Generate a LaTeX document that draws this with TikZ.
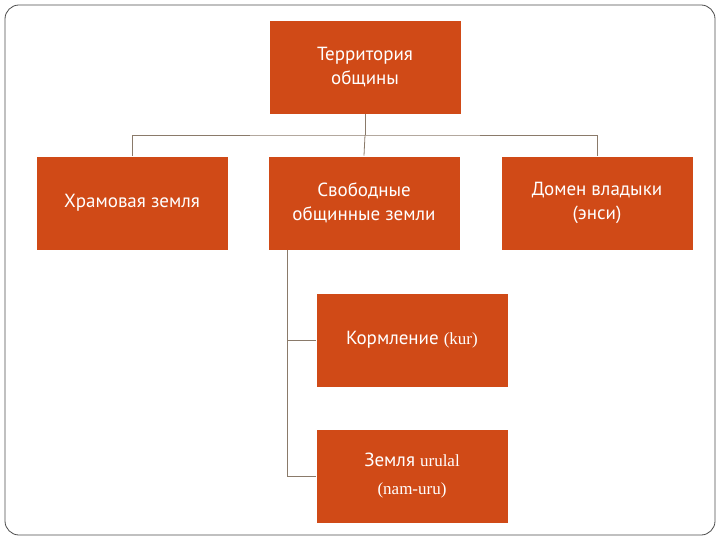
\documentclass[tikz,border=0pt]{standalone}
\usepackage{fontspec}
\setmainfont{PT Sans}
\newfontfamily\serifl{Liberation Serif}
\definecolor{boxc}{HTML}{D04A17}
\definecolor{linec}{HTML}{8A7A6A}
\begin{document}
\begin{tikzpicture}[x=1pt,y=-1pt,
  box/.style={fill=boxc,draw=white,line width=0.8pt,minimum width=192pt,minimum height=94pt,text=white,align=center,font=\fontsize{19}{24}\selectfont,inner sep=0pt},
  conn/.style={draw=linec,line width=0.8pt}]
\useasboundingbox (0,0) rectangle (720,540);
\draw[draw=black!70,line width=0.8pt,rounded corners=14pt] (5,5) rectangle (715,535);
\node[box] (top) at (365,67) {Территория\\общины};
\node[box] (l) at (132,203) {Храмовая земля};
\node[box] (m) at (364,203) {Свободные\\общинные земли};
\node[box] (r) at (597,203) {Домен владыки\\(энси)};
\node[box] (c1) at (412,340) {Кормление {\serifl\fontsize{17}{20}\selectfont(kur)}};
\node[box] (c2) at (412,476) {Земля {\serifl\fontsize{17}{20}\selectfont urulal}\\[4pt]{\serifl\fontsize{17}{20}\selectfont(nam-uru)}};
\coordinate (h) at (365,135);
\draw[conn] (top.south) -- (h);
\draw[conn] (l.north) |- (h) -| (r.north);
\draw[conn] (h) -- (m.north);
\coordinate (v) at (287,250);
\draw[conn] (v) |- (c1.west);
\draw[conn] (v) |- (c2.west);
\end{tikzpicture}
\end{document}
